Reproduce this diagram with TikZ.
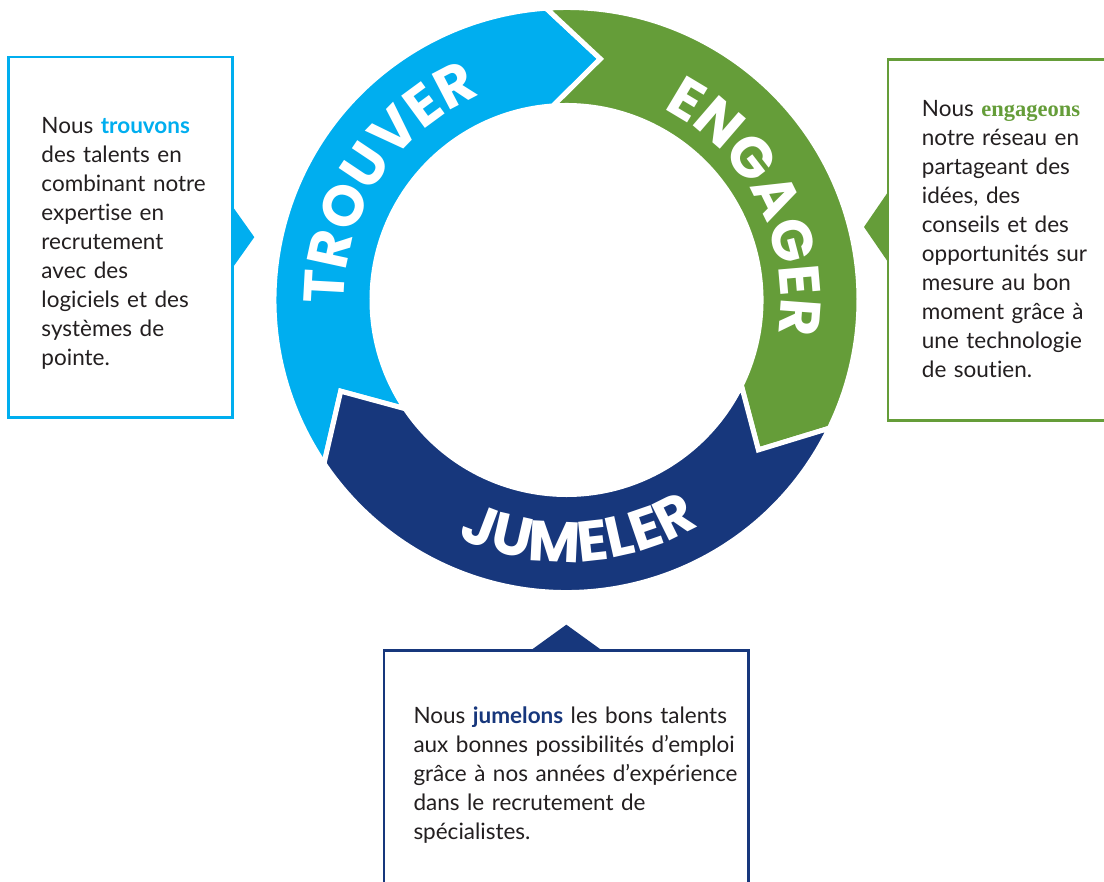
\documentclass[tikz,border=0pt]{standalone}
\usepackage{fontspec}
\setmainfont{Lato}[Ligatures={NoCommon,NoRare}]
\newfontfamily\ringfont{Poppins}
\newfontfamily\serifaccent{Liberation Serif}
\usetikzlibrary{decorations.text}
\definecolor{trouvercol}{RGB}{0,174,239}
\definecolor{engagercol}{RGB}{101,157,57}
\definecolor{jumelercol}{RGB}{23,55,124}
\definecolor{bodygray}{RGB}{35,31,32}
\def\Rout{292.5}
\def\Rin{194.5}
\def\Rmid{243.5}
% one arrow of the ring: colour, start angle, end angle (clockwise)
\newcommand{\ringseg}[3]{%
  \filldraw[fill=#1, draw=white, line width=5, line join=miter]
    (#2:\Rout) arc[start angle=#2, end angle=#3, radius=\Rout]
    -- (#3-12:\Rmid) -- (#3:\Rin)
    arc[start angle=#3, end angle=#2, radius=\Rin]
    -- (#2-12:\Rmid) -- cycle;}
\tikzset{box/.style={draw=#1, line width=2.5, fill=white, inner sep=0pt, outer sep=0pt, anchor=north west},
  bodytext/.style={anchor=base west, align=left, inner sep=0pt, text=bodygray,
    font=\fontsize{22.5}{29}\selectfont},
  ringlabel/.style={decorate, decoration={text along path, text align=center, text color=white,
    text={|\ringfont\bfseries\fontsize{57}{57}\selectfont|#1}}}}

\begin{document}
\begin{tikzpicture}[x=1pt,y=1pt]
  \useasboundingbox[fill=white] (0,0) rectangle (1104,882);
  \coordinate (hub) at (566.5,582);

  % ring
  \begin{scope}[shift={(hub)}]
    \ringseg{trouvercol}{214}{94}
    \ringseg{engagercol}{94}{-26}
    \ringseg{jumelercol}{-26}{-146}
    \path[ringlabel=TROUVER] (197:222) arc[start angle=197, end angle=97, radius=222];
    \path[ringlabel=ENGAGER] (77:214) arc[start angle=77, end angle=-23, radius=214];
    \path[ringlabel=JUMELER] (-137:262) arc[start angle=-137, end angle=-37, radius=262];
  \end{scope}

  % boxes
  \node[box=trouvercol, minimum width=224, minimum height=360.3] (trouverbox) at (8.3,825) {};
  \node[box=engagercol, minimum width=260, minimum height=361.4] (engagerbox) at (888,822.7) {};
  \node[box=jumelercol, minimum width=364.7, minimum height=260] (jumelerbox) at (384,231.3) {};

  \fill[trouvercol] ([yshift=31]trouverbox.east) -- ([xshift=22]trouverbox.east)
    -- ([yshift=-31]trouverbox.east) -- cycle;
  \fill[engagercol] ([yshift=48]engagerbox.west) -- ([xshift=-24,yshift=13]engagerbox.west)
    -- ([yshift=-22]engagerbox.west) -- cycle;
  \fill[jumelercol] ([xshift=-36]jumelerbox.north) -- ([yshift=26]jumelerbox.north)
    -- ([xshift=36]jumelerbox.north) -- cycle;

  % texts
  \node[bodytext, text width=190] (trouvertxt) at (41.3,748.7)
    {Nous \textbf{\color{trouvercol}trouvons}\\ des talents en\\ combinant notre\\ expertise en\\
     recrutement\\ avec des\\ logiciels et des\\ systèmes de\\ pointe.};
  \node[bodytext, text width=182] (engagertxt) at (921.7,765.3)
    {Nous {\serifaccent\bfseries\color{engagercol}engageons}\\ notre réseau en\\ partageant des\\
     idées, des\\ conseils et des\\ opportunités sur\\ mesure au bon\\ moment grâce à\\
     une technologie\\ de soutien.};
  \node[bodytext, text width=330] (jumelertxt) at (413.3,158.7)
    {Nous \textbf{\color{jumelercol}jumelons} les bons talents\\ aux bonnes possibilités d’emploi\\
     grâce à nos années d’expérience\\ dans le recrutement de\\ spécialistes.};
\end{tikzpicture}
\end{document}
